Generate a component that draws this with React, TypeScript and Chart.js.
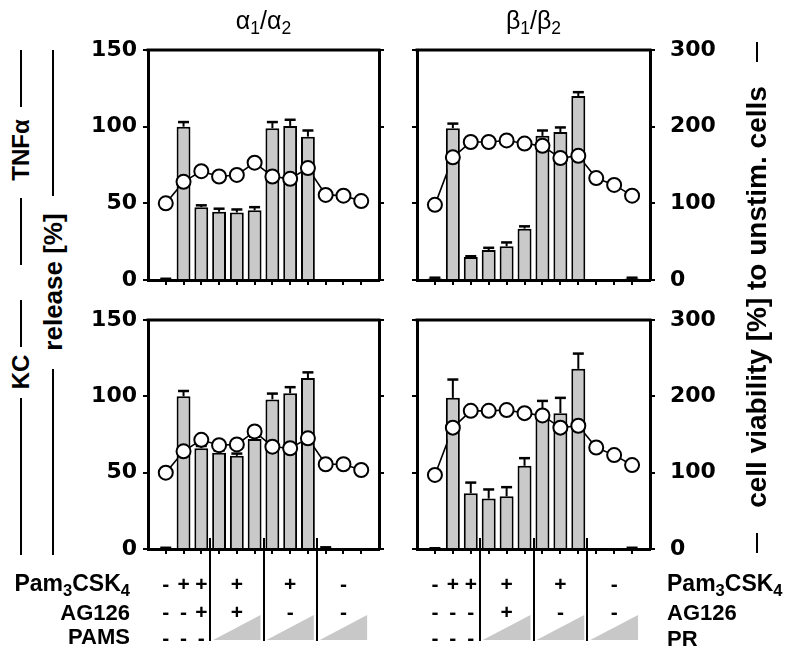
import React, { useEffect, useRef } from 'react';
import { Chart, registerables } from 'chart.js';

Chart.register(...registerables);

// ---------- data ----------
const categories = ['1', '2', '3', '4', '5', '6', '7', '8', '9', '10', '11', '12'];

// TNFα, α1/α2
const tnfA12Release = [0.5, 100, 47.5, 44.5, 44, 45.5, 99, 100.5, 93.5, 0, 0, 0];
const tnfA12Err = [0.3, 3, 1.2, 2, 2, 2, 4, 4, 4, 0, 0, 0];
const tnfA12Viab = [100, 128, 142, 135, 137, 153, 135, 132, 146, 111, 110, 103];

// TNFα, β1/β2
const tnfB12Release = [1, 99, 15, 19.5, 22, 33.5, 94, 96.5, 120, 0, 0, 1];
const tnfB12Err = [0.5, 3, 0.5, 1.5, 2.5, 1.5, 3.5, 3, 2.5, 0, 0, 0.5];
const tnfB12Viab = [98, 160, 180, 180, 182, 178, 175, 159, 162, 133, 124, 110];

// KC, α1/α2
const kcA12Release = [0.5, 100, 66, 63, 61, 72, 98, 102, 112, 0.8, 0, 0];
const kcA12Err = [0.3, 3.5, 1.5, 1.5, 1.5, 1.5, 3.8, 4, 3.7, 0.3, 0, 0];
const kcA12Viab = [100, 128, 143, 136, 137, 154, 134, 132, 145, 111, 111, 103.5];

// KC, β1/β2
const kcB12Release = [0.3, 99, 36.5, 33, 34.5, 54.5, 88, 89, 118, 0, 0, 0.5];
const kcB12Err = [0.2, 12, 7, 6, 6, 5, 9, 10, 10, 0, 0, 0.3];
const kcB12Viab = [97, 159, 181, 181, 182, 178, 175, 159, 161.5, 133, 123, 110];

const releaseTicks = [0, 50, 100, 150];
const viabilityTicks = [0, 100, 200, 300];

// treatment table
const symbolCats = [0, 1, 2, 4, 7, 10];
const pamRow = ['-', '+', '+', '+', '+', '-'];
const ag126RowLeft = ['-', '-', '+', '+', '-', '-'];
const ag126RowRight = ['-', '-', '-', '+', '-', '-'];
const thirdRowPrefix = ['-', '-', '-'];

// ---------- layout ----------
const FONT = '"Liberation Sans", Arial, Helvetica, sans-serif';
const NUM_FONT = '"DejaVu Sans", "Liberation Sans", Arial, sans-serif';
const LEFT_X = { L: 148, R: 379 };
const RIGHT_X = { L: 417, R: 650 };
const catX = (P: { L: number; R: number }, i: number) => P.L + (i + 1) * (P.R - P.L) / 13;

type PanelDef = {
  id: string;
  release: number[];
  err: number[];
  viab: number[];
  labelsLeft: boolean;
  cl: number; ct: number; cw: number; ch: number;
  padTop: number; yW: number; y1W: number; xH: number;
};

const panels: PanelDef[] = [
  { id: 'tl', release: tnfA12Release, err: tnfA12Err, viab: tnfA12Viab, labelsLeft: true,
    cl: 80, ct: 25, cw: 320, ch: 275, padTop: 25, yW: 68, y1W: 21, xH: 20 },
  { id: 'tr', release: tnfB12Release, err: tnfB12Err, viab: tnfB12Viab, labelsLeft: false,
    cl: 395, ct: 25, cw: 340, ch: 275, padTop: 25, yW: 22, y1W: 85, xH: 20 },
  { id: 'bl', release: kcA12Release, err: kcA12Err, viab: kcA12Viab, labelsLeft: true,
    cl: 80, ct: 295, cw: 320, ch: 275, padTop: 25, yW: 68, y1W: 21, xH: 21 },
  { id: 'br', release: kcB12Release, err: kcB12Err, viab: kcB12Viab, labelsLeft: false,
    cl: 395, ct: 295, cw: 340, ch: 275, padTop: 25, yW: 22, y1W: 85, xH: 21 },
];

const pad = (a: number[]) => [null, ...a, null];

const errorBarPlugin = {
  id: 'errorBars',
  afterDatasetDraw(chart: any, args: any) {
    const ds = chart.data.datasets[args.index];
    if (!ds.errors) return;
    const meta = args.meta;
    const ys = chart.scales[meta.yAxisID];
    const ctx = chart.ctx;
    ctx.save();
    ctx.strokeStyle = '#000';
    meta.data.forEach((el: any, i: number) => {
      const v = ds.data[i];
      const e = ds.errors[i];
      if (v == null || !e) return;
      const x = el.x;
      const y0 = ys.getPixelForValue(v);
      const y1 = ys.getPixelForValue(v + e);
      ctx.lineWidth = 2;
      ctx.beginPath();
      ctx.moveTo(x, y0);
      ctx.lineTo(x, y1);
      ctx.stroke();
      ctx.lineWidth = 2.5;
      ctx.beginPath();
      ctx.moveTo(x - 5.5, y1);
      ctx.lineTo(x + 5.5, y1);
      ctx.stroke();
    });
    ctx.restore();
  },
};

const framePlugin = {
  id: 'frameTop',
  afterDraw(chart: any) {
    const { ctx, chartArea } = chart;
    ctx.save();
    ctx.strokeStyle = '#000';
    ctx.lineWidth = 3;
    ctx.beginPath();
    ctx.moveTo(chartArea.left - 1.5, chartArea.top);
    ctx.lineTo(chartArea.right + 1.5, chartArea.top);
    ctx.stroke();
    ctx.restore();
  },
};

function Panel({ p }: { p: PanelDef }) {
  const ref = useRef<HTMLCanvasElement>(null);
  useEffect(() => {
    const tickFont = { family: NUM_FONT, size: 22, weight: 'bold' as const };
    const axisCommon = {
      grid: { drawOnChartArea: false, drawTicks: true, tickLength: 5, color: '#000', lineWidth: 2 },
      border: { display: true, width: 3, color: '#000' },
    };
    const chart = new Chart(ref.current!, {
      type: 'bar',
      data: {
        labels: ['', ...categories, ''],
        datasets: [
          {
            type: 'line',
            data: pad(p.viab),
            yAxisID: 'y1',
            borderColor: '#000',
            borderWidth: 1.6,
            pointRadius: 0,
            fill: false,
            order: 2,
          } as any,
          {
            type: 'bar',
            data: pad(p.release),
            errors: pad(p.err),
            yAxisID: 'y',
            backgroundColor: '#c9c9c9',
            borderColor: '#000',
            borderWidth: 2,
            barPercentage: 0.78,
            categoryPercentage: 1,
            order: 1,
          } as any,
          {
            type: 'line',
            data: pad(p.viab),
            yAxisID: 'y1',
            showLine: false,
            pointRadius: 7,
            pointBorderWidth: 2,
            pointBackgroundColor: '#fff',
            pointBorderColor: '#000',
            order: 0,
          } as any,
        ],
      },
      options: {
        responsive: false,
        animation: false,
        layout: { padding: { top: p.padTop, left: 0, right: 0, bottom: 0 } },
        plugins: { legend: { display: false }, tooltip: { enabled: false } },
        scales: {
          x: {
            type: 'category',
            offset: false,
            grid: {
              offset: false,
              drawOnChartArea: false,
              drawTicks: true,
              tickLength: 5,
              lineWidth: 2,
              color: '#000',
              tickColor: (c: any) => (c.index === 0 || c.index === 13 ? 'rgba(0,0,0,0)' : '#000'),
            },
            border: { display: true, width: 3, color: '#000' },
            ticks: { display: false, autoSkip: false },
            afterFit: (s: any) => {
              s.height = p.xH;
              s.paddingLeft = 0; s.paddingRight = 0; s.paddingTop = 0; s.paddingBottom = 0;
            },
          },
          y: {
            position: 'left',
            min: 0,
            max: 150,
            ...axisCommon,
            afterBuildTicks: (s: any) => { s.ticks = releaseTicks.map((v) => ({ value: v })); },
            ticks: { display: p.labelsLeft, color: '#000', font: tickFont, padding: 6 },
            afterFit: (s: any) => {
              s.width = p.yW;
              s.paddingTop = 0; s.paddingBottom = 0;
            },
          },
          y1: {
            position: 'right',
            min: 0,
            max: 300,
            ...axisCommon,
            afterBuildTicks: (s: any) => { s.ticks = viabilityTicks.map((v) => ({ value: v })); },
            ticks: { display: !p.labelsLeft, color: '#000', font: tickFont, padding: 15 },
            afterFit: (s: any) => {
              s.width = p.y1W;
              s.paddingTop = 0; s.paddingBottom = 0;
            },
          },
        },
      } as any,
      plugins: [errorBarPlugin, framePlugin],
    });
    return () => chart.destroy();
  }, []);
  return (
    <canvas
      ref={ref}
      width={p.cw}
      height={p.ch}
      style={{ position: 'absolute', left: p.cl, top: p.ct, width: p.cw, height: p.ch }}
    />
  );
}

const Txt = ({ x, y, children, size = 22, weight = 'bold', align = 'center', rotate = false }: any) => {
  const tx = align === 'center' ? '-50%' : align === 'right' ? '-100%' : '0';
  return (
    <div
      style={{
        position: 'absolute',
        left: x,
        top: y,
        transform: `translate(${tx},-50%)${rotate ? ' rotate(-90deg)' : ''}`,
        transformOrigin: rotate ? '50% 50%' : undefined,
        whiteSpace: 'nowrap',
        fontSize: size,
        fontWeight: weight,
        lineHeight: 1,
      }}
    >
      {children}
    </div>
  );
};

const VLine = ({ x, y1, y2, w = 1.8 }: any) => (
  <div style={{ position: 'absolute', left: x - w / 2, top: y1, width: w, height: y2 - y1, background: '#000' }} />
);

const subStyle: React.CSSProperties = { fontSize: '0.72em', verticalAlign: '-0.35em', lineHeight: 0 };

const Pam = () => (
  <span>Pam<span style={subStyle}>3</span>CSK<span style={subStyle}>4</span></span>
);

function Table({ P, agRow, thirdLabel, labelSide }: any) {
  const divs = [2.5, 5.5, 8.5, 11.5].map((v) => catX(P, v));
  const rowY = [583, 611, 637];
  return (
    <>
      {symbolCats.map((c, k) => (
        <React.Fragment key={'s' + k}>
          <Txt x={catX(P, c)} y={rowY[0]} size={21}>{pamRow[k]}</Txt>
          <Txt x={catX(P, c)} y={rowY[1]} size={21}>{agRow[k]}</Txt>
        </React.Fragment>
      ))}
      {thirdRowPrefix.map((s, k) => (
        <Txt key={'t' + k} x={catX(P, k)} y={rowY[2]} size={21}>{s}</Txt>
      ))}
      {divs.slice(0, 3).map((d, k) => (
        <VLine key={'d' + k} x={d} y1={538} y2={641} w={2} />
      ))}
      <svg style={{ position: 'absolute', left: 0, top: 0, overflow: 'visible' }} width={1} height={1}>
        {divs.slice(0, 3).map((d, k) => {
          const a = d + 3;
          const b = divs[k + 1] - 3;
          return <polygon key={k} points={`${a},640 ${b},640 ${b},615`} fill="#c8c8c8" />;
        })}
      </svg>
      {labelSide === 'left' ? (
        <>
          <Txt x={130} y={rowY[0]} align="right" size={23}><Pam /></Txt>
          <Txt x={130} y={rowY[1] + 2} align="right" size={22}>AG126</Txt>
          <Txt x={130} y={rowY[2]} align="right" size={22}>{thirdLabel}</Txt>
        </>
      ) : (
        <>
          <Txt x={667} y={rowY[0]} align="left" size={23}><Pam /></Txt>
          <Txt x={667} y={rowY[1] + 2} align="left" size={22}>AG126</Txt>
          <Txt x={667} y={rowY[2] + 2} align="left" size={22}>{thirdLabel}</Txt>
        </>
      )}
    </>
  );
}

export default function App() {
  const sub: React.CSSProperties = { fontSize: '0.7em', verticalAlign: '-0.3em', lineHeight: 0 };
  return (
    <div
      style={{
        position: 'absolute',
        left: 0,
        top: 0,
        width: 785,
        height: 649,
        background: '#fff',
        color: '#000',
        fontFamily: FONT,
        overflow: 'hidden',
      }}
    >
      {panels.map((p) => (
        <Panel key={p.id} p={p} />
      ))}

      {/* column titles */}
      <Txt x={(LEFT_X.L + LEFT_X.R) / 2} y={20} size={25} weight="normal">
        α<span style={sub}>1</span>/α<span style={sub}>2</span>
      </Txt>
      <Txt x={(RIGHT_X.L + RIGHT_X.R) / 2} y={20} size={25} weight="normal">
        β<span style={sub}>1</span>/β<span style={sub}>2</span>
      </Txt>

      {/* row labels */}
      <VLine x={21} y1={50} y2={107} />
      <Txt x={21} y={150} size={24} rotate>TNFα</Txt>
      <VLine x={21} y1={198} y2={265} />

      <VLine x={21} y1={300} y2={347} />
      <Txt x={21} y={372} size={24} rotate>KC</Txt>
      <VLine x={21} y1={398} y2={555} />

      <VLine x={53} y1={50} y2={196} />
      <Txt x={53} y={282} size={26} rotate>release [%]</Txt>
      <VLine x={53} y1={369} y2={555} />

      <VLine x={757} y1={42} y2={62} />
      <Txt x={757} y={297} size={28} rotate>cell viability [%] to unstim. cells</Txt>
      <VLine x={757} y1={533} y2={553} />

      {/* treatment tables */}
      <Table P={LEFT_X} agRow={ag126RowLeft} thirdLabel="PAMS" labelSide="left" />
      <Table P={RIGHT_X} agRow={ag126RowRight} thirdLabel="PR" labelSide="right" />
    </div>
  );
}
